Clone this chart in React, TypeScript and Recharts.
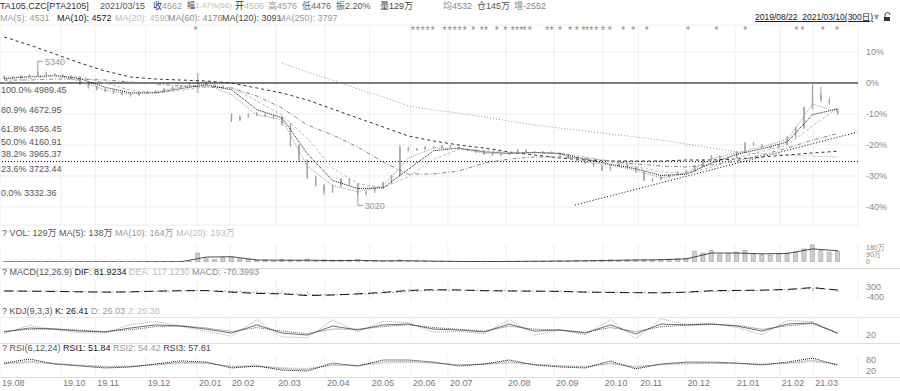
import { Bar, CartesianGrid, ComposedChart, Line, ReferenceDot, ReferenceLine, Scatter, XAxis, YAxis } from 'recharts'

const FONT = '"Liberation Sans", Arial, "Noto Sans CJK SC", sans-serif'
const W = 900
const X_DOMAIN: [number, number] = [-0.5, 101.4]

// one candle per 3 trading days, 2019/08/22 .. 2021/03/15: open, high, low, close
const candles: number[][] = [
  [5070, 5110, 5050, 5086], [5086, 5100, 5050, 5070], [5070, 5120, 5060, 5102], [5102, 5130, 5090, 5110],
  [5110, 5340, 5100, 5150], [5150, 5170, 5110, 5134], [5134, 5150, 5100, 5118], [5118, 5130, 5080, 5102],
  [5102, 5110, 5050, 5086], [5080, 5090, 4960, 4989], [4989, 5000, 4900, 4925], [4925, 4940, 4870, 4892],
  [4892, 4905, 4840, 4860], [4860, 4880, 4810, 4828], [4828, 4850, 4790, 4812], [4812, 4830, 4770, 4796],
  [4796, 4840, 4785, 4828], [4828, 4860, 4815, 4844], [4844, 4875, 4830, 4860], [4860, 4905, 4850, 4892],
  [4892, 4935, 4880, 4925], [4925, 4960, 4910, 4941], [4941, 4990, 4930, 4973], [4973, 5150, 4830, 5005],
  [5005, 5020, 4950, 4973], [4973, 4985, 4920, 4941], [4941, 4950, 4900, 4925], [4480, 4500, 4360, 4393],
  [4393, 4470, 4380, 4442], [4442, 4500, 4430, 4474], [4474, 4520, 4460, 4490], [4490, 4510, 4440, 4470],
  [4470, 4480, 4410, 4442], [4442, 4450, 4300, 4329], [4329, 4340, 3960, 3991], [3991, 4000, 3720, 3749],
  [3749, 3760, 3440, 3476], [3476, 3500, 3320, 3347], [3347, 3360, 3180, 3234], [3234, 3350, 3220, 3331],
  [3331, 3460, 3320, 3443], [3443, 3450, 3340, 3363], [3363, 3370, 3020, 3202], [3202, 3260, 3180, 3234],
  [3234, 3310, 3220, 3298], [3298, 3400, 3290, 3379], [3379, 3510, 3370, 3492], [3500, 3990, 3490, 3943],
  [3943, 3960, 3890, 3910], [3910, 3940, 3900, 3926], [3926, 3975, 3915, 3959], [3959, 3970, 3930, 3945],
  [3945, 3990, 3940, 3975], [3975, 3985, 3945, 3959], [3959, 3965, 3910, 3926], [3926, 3935, 3895, 3910],
  [3910, 3920, 3865, 3878], [3878, 3890, 3830, 3846], [3846, 3860, 3815, 3830], [3830, 3855, 3820, 3838],
  [3838, 3875, 3830, 3862], [3862, 3925, 3855, 3910], [3910, 3915, 3865, 3878], [3878, 3890, 3855, 3870],
  [3870, 3895, 3860, 3878], [3878, 3885, 3850, 3862], [3862, 3870, 3815, 3830], [3830, 3840, 3765, 3781],
  [3781, 3795, 3720, 3733], [3733, 3745, 3690, 3701], [3701, 3710, 3640, 3653], [3653, 3665, 3575, 3588],
  [3588, 3670, 3580, 3653], [3653, 3715, 3645, 3701], [3701, 3710, 3625, 3637], [3637, 3645, 3540, 3556],
  [3556, 3565, 3410, 3427], [3427, 3455, 3400, 3440], [3440, 3490, 3430, 3476], [3476, 3520, 3465, 3508],
  [3508, 3570, 3500, 3556], [3556, 3590, 3545, 3572], [3572, 3670, 3565, 3653], [3653, 3765, 3645, 3749],
  [3749, 3830, 3740, 3814], [3814, 3820, 3735, 3749], [3749, 3795, 3740, 3781], [3781, 3890, 3775, 3878],
  [3878, 4040, 3870, 4023], [4023, 4035, 3980, 3991], [3991, 4000, 3945, 3959], [3959, 3970, 3930, 3943],
  [3943, 4005, 3935, 3991], [3991, 4135, 3985, 4120], [4120, 4280, 4110, 4264], [4264, 4610, 4250, 4587],
  [4587, 4960, 4570, 4796], [4796, 4930, 4690, 4715], [4715, 4760, 4640, 4667], [4506, 4576, 4476, 4562],
]

// volume, 万
const volume = [
  0.5, 0.5, 0.5, 0.5, 0.5, 0.5, 0.5, 0.5, 0.5, 0.5, 0.5, 0.5, 0.5, 0.5, 0.5, 0.5,
  3, 3, 4, 3, 4, 5, 8, 110, 45, 30, 55, 60, 40, 35,
  20, 25, 15, 30, 25, 20, 35, 15, 25, 20, 18, 22, 30, 15, 20,
  10, 15, 25, 12, 10, 12, 8, 10, 8,
  6, 6, 5, 5, 6, 6, 8, 10, 8, 10, 12, 12, 15, 14, 18, 16, 20, 22, 25,
  20, 25, 30, 28, 25, 30, 35, 40, 45,
  130, 110, 140, 95, 100, 120, 140, 100, 90, 85, 95, 110, 120, 160, 210, 140, 120, 129,
]

// indicators, one value every third candle
const ma5 = [5080, 5095, 5110, 5020, 4875, 4810, 4845, 4925, 4970, 4800, 4475, 4400, 3650, 3340, 3240, 3330, 3780, 3945, 3935, 3860, 3855, 3875, 3845, 3720, 3665, 3585, 3460, 3540, 3770, 3865, 3960, 4080, 4650, 4531]
const ma10 = [5060, 5090, 5110, 5060, 4920, 4830, 4830, 4900, 4960, 4880, 4560, 4430, 3850, 3420, 3290, 3300, 3600, 3900, 3940, 3880, 3855, 3870, 3855, 3760, 3680, 3610, 3500, 3520, 3700, 3840, 3930, 4040, 4480, 4572]
const ma20 = [5000, 5060, 5100, 5090, 4990, 4870, 4830, 4870, 4930, 4920, 4700, 4470, 4100, 3620, 3370, 3300, 3480, 3760, 3920, 3900, 3870, 3870, 3860, 3800, 3720, 3640, 3560, 3530, 3630, 3780, 3890, 3990, 4300, 4590]
const ma60 = [5037, 5037, 5053, 5053, 5037, 5005, 4973, 4941, 4925, 4909, 4780, 4587, 4313, 4152, 3959, 3717, 3524, 3524, 3572, 3701, 3765, 3798, 3798, 3782, 3733, 3685, 3653, 3637, 3669, 3733, 3830, 3942, 4071, 4176]
const ma120 = [5730, 5601, 5456, 5311, 5182, 5086, 5053, 5037, 5021, 4989, 4909, 4828, 4715, 4570, 4425, 4281, 4136, 4055, 3991, 3942, 3878, 3830, 3782, 3749, 3733, 3733, 3733, 3749, 3749, 3765, 3798, 3830, 3862, 3891]
const ma250 = [null, null, null, null, null, null, null, null, null, null, null, 5311, 5166, 5037, 4892, 4764, 4619, 4554, 4506, 4442, 4377, 4313, 4264, 4216, 4168, 4120, 4071, 4007, 3942, 3878, 3846, 3830, 3814, 3797]
const volMa = [0.5, 0.5, 0.5, 0.5, 0.5, 0.5, 2, 3, 60, 65, 25, 22, 22, 18, 20, 14, 16, 10, 7, 5, 7, 9, 11, 15, 20, 24, 28, 38, 110, 110, 100, 105, 160, 138]
const dif = [20, 10, -10, -40, -60, -40, 10, 40, 50, -60, -150, -180, -300, -260, -180, -80, 60, 110, 90, 40, 20, 10, -10, -60, -80, -100, -110, -60, 40, 60, 80, 130, 260, 82]
const dea = [25, 15, 0, -25, -45, -45, -10, 25, 40, 0, -80, -140, -230, -250, -210, -130, -20, 60, 80, 55, 30, 15, 0, -40, -65, -85, -100, -80, -10, 35, 60, 100, 200, 117]
const macdHist = [-10, -10, -20, -30, -30, 10, 40, 30, 20, -120, -140, -80, -140, -20, 60, 100, 160, 100, 20, -30, -20, -10, -20, -40, -30, -30, -20, 40, 100, 50, 40, 60, 120, -70]
const kLine = [32, 50, 45, 36, 32, 50, 64, 59, 45, 27, 64, 27, 18, 59, 41, 64, 68, 45, 41, 32, 68, 36, 41, 27, 64, 23, 68, 64, 68, 59, 36, 68, 73, 26.41]
const dLine = [35, 44, 46, 40, 34, 42, 56, 60, 50, 34, 52, 36, 24, 45, 45, 56, 65, 52, 44, 36, 58, 45, 41, 31, 52, 34, 56, 63, 66, 62, 44, 60, 70, 26.03]
const jLine = [26, 62, 43, 28, 28, 66, 80, 57, 35, 13, 88, 9, 6, 87, 33, 80, 74, 31, 35, 24, 88, 18, 41, 19, 88, 1, 92, 66, 72, 53, 20, 84, 79, 25.38]
const rsi1 = [63, 84, 58, 47, 37, 42, 58, 74, 68, 37, 47, 26, 21, 63, 47, 79, 79, 68, 47, 58, 79, 53, 42, 37, 74, 32, 58, 68, 68, 63, 53, 68, 89, 51.84]
const rsi2 = [60, 72, 60, 50, 42, 44, 55, 66, 64, 42, 47, 33, 28, 55, 50, 70, 72, 65, 52, 57, 70, 55, 46, 41, 64, 40, 56, 63, 64, 61, 55, 63, 78, 54.42]
const rsi3 = [57, 65, 60, 52, 46, 47, 54, 61, 61, 47, 48, 38, 34, 50, 50, 62, 66, 62, 55, 56, 63, 56, 50, 46, 58, 46, 54, 59, 61, 60, 57, 61, 70, 57.81]

const monthTicks = [-0.5, 6.75, 10.8, 16.8, 22.9, 26.8, 32.3, 38.1, 43.4, 48.3, 52.7, 59.6, 65.3, 71.1, 75.3, 80.9, 86.8, 92.1, 96.1]
const monthLabels = ['19.08', '19.10', '19.11', '19.12', '20.01', '20.02', '20.03', '20.04', '20.05', '20.06', '20.07', '20.08', '20.09', '20.10', '20.11', '20.12', '21.01', '21.02', '21.03']

const pctTickPrices = [5488.4, 4989.45, 4490.5, 3991.6, 3492.6, 2993.7]
const pctTickLabels = ['10%', '0%', '-10%', '-20%', '-30%', '-40%']
const fibPct = ['100.0%', '80.9%', '61.8%', '50.0%', '38.2%', '23.6%', '0.0%']
const fibPrice = [4989.45, 4672.95, 4356.45, 4160.91, 3965.37, 3723.44, 3332.36]
const trendX = [67.8, 101.3]
const trendY = [3025, 4197]
const starIdx = [22.7, 48.5, 49.1, 49.7, 50.3, 50.9, 52.3, 52.9, 53.5, 54.1, 54.7, 55.7, 56.7, 57.2, 58.5, 59.5, 60.4, 60.9, 61.4, 61.8, 62.4, 64.5, 65.0, 66.0, 67.2, 68.0, 68.8, 69.2, 69.7, 70.3, 71.1, 71.9, 73.5, 74.7, 76.3, 81.2, 84.6, 88.0, 94.1, 94.8, 97.2, 98.9]
const STAR_PRICE = 5858

const rows = candles.map(([o, h, l, c], i) => {
  const k = i / 3
  const grid = i % 3 === 0
  return {
    i, o, h, l, c, range: [l, h], vol: volume[i],
    ...(grid
      ? {
          ma5: ma5[k], ma10: ma10[k], ma20: ma20[k], ma60: ma60[k], ma120: ma120[k], ma250: ma250[k],
          volMa: volMa[k], dif: dif[k], dea: dea[k], hist: macdHist[k],
          k: kLine[k], d: dLine[k], j: jLine[k], rsi1: rsi1[k], rsi2: rsi2[k], rsi3: rsi3[k],
        }
      : {}),
  }
})
const stars = starIdx.map((i) => ({ i, y: STAR_PRICE }))

function Candle(props: any) {
  const { x, y, width, height, payload } = props
  const { o, h, l, c } = payload
  const top = Math.min(y, y + height)
  const bot = Math.max(y, y + height)
  const py = (v: number) => top + ((h - v) / (h - l || 1)) * (bot - top)
  const cx = x + width / 2
  const y1 = py(Math.max(o, c))
  const y2 = py(Math.min(o, c))
  return (
    <g>
      <line x1={cx} x2={cx} y1={top} y2={bot} stroke="#9a9a9a" />
      <rect x={x} y={y1} width={width} height={Math.max(1, y2 - y1)} fill="#c8c8c8" stroke="#999" strokeWidth={0.6} />
    </g>
  )
}

const Star = (p: any) => (
  <text x={p.cx} y={p.cy + 5} textAnchor="middle" fontSize={10} fill="#888" fontFamily={FONT}>*</text>
)

function FibLabel(props: any) {
  const { viewBox, text } = props
  return (
    <text x={1} y={viewBox.y + 7} dy="0.35em" fontSize={9} fill="#555" fontFamily={FONT}>{text}</text>
  )
}

function Mark(props: any) {
  const { cx, cy, text } = props
  return (
    <g>
      <path d={`M${cx},${cy}H${cx + 5}`} stroke="#999" fill="none" />
      <text x={cx + 7} y={cy + 1} dy="0.35em" fontSize={9} fill="#999" fontFamily={FONT}>{text}</text>
    </g>
  )
}

function RightTick(props: any) {
  const { x, y, payload, labels, values, s = 9 } = props
  const idx = values.indexOf(payload.value)
  return (
    <text x={x} y={y} dy="0.35em" fontSize={s} fill="#888" fontFamily={FONT}>{labels[idx]}</text>
  )
}

function MonthTick(props: any) {
  const { x, y, index } = props
  return (
    <text x={x + 2} y={y} dy="0.35em" fontSize={9} fill="#777" fontFamily={FONT}>{monthLabels[index]}</text>
  )
}

function T({ x, y, c = '#444', s = 9, u, children }: any) {
  return (
    <div style={{ position: 'absolute', left: x, top: y - s * 0.6, fontSize: s, lineHeight: `${s * 1.2}px`, color: c, whiteSpace: 'pre', textDecoration: u ? 'underline' : 'none' }}>
      {children}
    </div>
  )
}

const Rule = ({ y, c = '#dcdcdc' }: { y: number; c?: string }) => (
  <div style={{ position: 'absolute', left: 0, top: y, width: W, height: 1, background: c }} />
)

const xAxis = (hide = true) => (
  <XAxis dataKey="i" type="number" domain={X_DOMAIN} allowDataOverflow ticks={monthTicks} interval={0} hide={hide} axisLine={false} tickLine={false} height={16} tick={<MonthTick />} />
)

export default function App() {
  return (
    <div style={{ position: 'fixed', left: 0, top: 0, width: W, height: 391, overflow: 'hidden', background: '#fff', fontFamily: FONT }}>
      {/* header */}
      <T x={0} y={6} c="#333">TA105.CZC[PTA2105]</T>
      <T x={100} y={6} c="#555">2021/03/15</T>
      <T x={153} y={6} c="#333">收<span style={{ color: '#999' }}>4562</span></T>
      <T x={187} y={6} c="#333" s={8}>幅<span style={{ color: '#bbb' }}>1.47%(66)</span></T>
      <T x={235} y={6} c="#333">开<span style={{ color: '#bbb' }}>4506</span></T>
      <T x={268} y={6} c="#999">高4576</T>
      <T x={302} y={6} c="#666">低4476</T>
      <T x={336} y={6} c="#555">振2.20%</T>
      <T x={380} y={6} c="#444">量129万</T>
      <T x={443} y={6} c="#888">均4532</T>
      <T x={477} y={6} c="#555">仓145万</T>
      <T x={514} y={6} c="#888">增-2552</T>

      <T x={0} y={18} c="#999">MA(5): 4531</T>
      <T x={57} y={18} c="#222">MA(10): 4572</T>
      <T x={115} y={18} c="#bbb">MA(20): 4590</T>
      <T x={168} y={18} c="#888">MA(60): 4176</T>
      <T x={222} y={18} c="#444">MA(120): 3091</T>
      <T x={278} y={18} c="#999">MA(250): 3797</T>

      <T x={755} y={17} c="#222" s={8.5} u>2019/08/22  2021/03/10(300日)</T>
      <T x={872} y={17} c="#999" s={9}>▼</T>
      <svg style={{ position: 'absolute', left: 883, top: 12 }} width={9} height={10}>
        <path d="M2,5V3a2.5,2.5 0 0 1 5,0" stroke="#444" fill="none" />
        <rect x={1} y={5} width={6} height={4} fill="#333" />
      </svg>

      {/* main price panel */}
      <div style={{ position: 'absolute', left: 0, top: 0 }}>
        <ComposedChart width={W} height={228} data={rows} margin={{ top: 25, right: 0, bottom: 3, left: 0 }}>
          <CartesianGrid stroke="#eeeeee" />
          {xAxis()}
          <YAxis orientation="right" width={42} domain={[2703, 5923]} allowDataOverflow ticks={pctTickPrices} interval={0}
            axisLine={false} tickLine={false} tick={<RightTick labels={pctTickLabels} values={pctTickPrices} />} />
          <ReferenceLine y={fibPrice[0]} stroke="#000" />
          <ReferenceLine y={fibPrice[5]} stroke="#000" strokeDasharray="1 2" />
          {fibPrice.map((p, n) => (
            <ReferenceLine key={n} y={p} stroke="none" label={<FibLabel text={`${fibPct[n]} ${p.toFixed(2)}`} />} />
          ))}
          <ReferenceLine segment={[{ x: trendX[0], y: trendY[0] }, { x: trendX[1], y: trendY[1] }]} stroke="#000" strokeDasharray="1 2" />
          <Bar dataKey="range" barSize={3} shape={<Candle />} isAnimationActive={false} />
          <Line dataKey="ma250" stroke="#999" strokeDasharray="1 2" dot={false} connectNulls isAnimationActive={false} />
          <Line dataKey="ma120" stroke="#333" strokeDasharray="3 3" dot={false} connectNulls isAnimationActive={false} />
          <Line dataKey="ma60" stroke="#888" strokeDasharray="4 2 1 2" dot={false} connectNulls isAnimationActive={false} />
          <Line dataKey="ma20" stroke="#bbb" strokeDasharray="3 2" dot={false} connectNulls isAnimationActive={false} />
          <Line dataKey="ma10" stroke="#111" strokeDasharray="1 1" dot={false} connectNulls isAnimationActive={false} />
          <Line dataKey="ma5" stroke="#999" strokeDasharray="1 1" dot={false} connectNulls isAnimationActive={false} />
          <Scatter data={stars} dataKey="y" shape={Star} isAnimationActive={false} />
          <ReferenceDot x={4} y={5340} r={0} shape={(p: any) => <Mark {...p} text="5340" />} />
          <ReferenceDot x={42} y={3020} r={0} shape={(p: any) => <Mark {...p} text="3020" />} />
        </ComposedChart>
      </div>

      {/* volume */}
      <T x={2} y={233} c="#555">? VOL: 129万 MA(5): 138万 <span style={{ color: '#999' }}>MA(10): 164万</span> <span style={{ color: '#bbb' }}>MA(20): 193万</span></T>
      <div style={{ position: 'absolute', left: 0, top: 228 }}>
        <ComposedChart width={W} height={40} data={rows} margin={{ top: 16, right: 0, bottom: 6, left: 0 }}>
          <CartesianGrid stroke="#eeeeee" horizontal={false} />
          {xAxis()}
          <YAxis orientation="right" width={42} domain={[0, 220]} allowDataOverflow ticks={[0, 90, 180]} interval={0}
            axisLine={false} tickLine={false} tick={<RightTick s={7} labels={['0', '90万', '180万']} values={[0, 90, 180]} />} />
          <Bar dataKey="vol" barSize={4} fill="#cfcfcf" stroke="#999" strokeWidth={0.6} isAnimationActive={false} />
          <Line dataKey="volMa" stroke="#222" strokeWidth={0.8} dot={false} connectNulls isAnimationActive={false} />
        </ComposedChart>
      </div>

      {/* MACD */}
      <T x={2} y={272} c="#555">? MACD(12,26,9) <span style={{ color: '#222' }}>DIF: 81.9234</span> <span style={{ color: '#bbb' }}>DEA: 117.1230</span> <span style={{ color: '#888' }}>MACD: -70.3993</span></T>
      <div style={{ position: 'absolute', left: 0, top: 268 }}>
        <ComposedChart width={W} height={36} data={rows} margin={{ top: 12, right: 0, bottom: 4, left: 0 }}>
          <CartesianGrid stroke="#eeeeee" horizontal={false} />
          {xAxis()}
          <YAxis orientation="right" width={42} domain={[-610, 790]} allowDataOverflow ticks={[300, -400]} interval={0}
            axisLine={false} tickLine={false} tick={<RightTick labels={['300', '-400']} values={[300, -400]} />} />
          <Bar dataKey="hist" barSize={1} fill="#aaa" isAnimationActive={false} />
          <Line dataKey="dea" stroke="#aaa" strokeDasharray="2 2" dot={false} connectNulls isAnimationActive={false} />
          <Line dataKey="dif" stroke="#111" strokeDasharray="9 5" dot={false} connectNulls isAnimationActive={false} />
        </ComposedChart>
      </div>

      {/* KDJ */}
      <T x={2} y={311} c="#555">? KDJ(9,3,3) <span style={{ color: '#222' }}>K: 26.41</span> <span style={{ color: '#999' }}>D: 26.03</span> <span style={{ color: '#bbb' }}>J: 25.38</span></T>
      <div style={{ position: 'absolute', left: 0, top: 304 }}>
        <ComposedChart width={W} height={40} data={rows} margin={{ top: 13, right: 0, bottom: 5, left: 0 }}>
          <CartesianGrid stroke="#eeeeee" horizontal={false} />
          {xAxis()}
          <YAxis orientation="right" width={42} domain={[0, 100]} allowDataOverflow ticks={[20]} interval={0}
            axisLine={false} tickLine={false} tick={<RightTick labels={['20']} values={[20]} />} />
          <Line dataKey="j" stroke="#aaa" strokeDasharray="1 1" dot={false} connectNulls isAnimationActive={false} />
          <Line dataKey="d" stroke="#666" strokeDasharray="1 1" dot={false} connectNulls isAnimationActive={false} />
          <Line dataKey="k" stroke="#333" strokeWidth={0.7} dot={false} connectNulls isAnimationActive={false} />
        </ComposedChart>
      </div>

      {/* RSI */}
      <T x={2} y={348} c="#555">? RSI(6,12,24) <span style={{ color: '#222' }}>RSI1: 51.84</span> <span style={{ color: '#999' }}>RSI2: 54.42</span> <span style={{ color: '#444' }}>RSI3: 57.81</span></T>
      <div style={{ position: 'absolute', left: 0, top: 344 }}>
        <ComposedChart width={W} height={47} data={rows} margin={{ top: 12, right: 0, bottom: 0, left: 0 }}>
          <CartesianGrid stroke="#eeeeee" horizontal={false} />
          {xAxis(false)}
          <YAxis orientation="right" width={42} domain={[0, 100]} allowDataOverflow ticks={[80, 20]} interval={0}
            axisLine={false} tickLine={false} tick={<RightTick labels={['80', '20']} values={[80, 20]} />} />
          <Line dataKey="rsi3" stroke="#bbb" strokeDasharray="2 1" dot={false} connectNulls isAnimationActive={false} />
          <Line dataKey="rsi2" stroke="#888" strokeDasharray="1 1" dot={false} connectNulls isAnimationActive={false} />
          <Line dataKey="rsi1" stroke="#111" strokeDasharray="1 1" dot={false} connectNulls isAnimationActive={false} />
        </ComposedChart>
      </div>

      <Rule y={268} />
      <Rule y={317} c="#e8e8e8" />
      <Rule y={343} />
      <Rule y={377} />
    </div>
  )
}
